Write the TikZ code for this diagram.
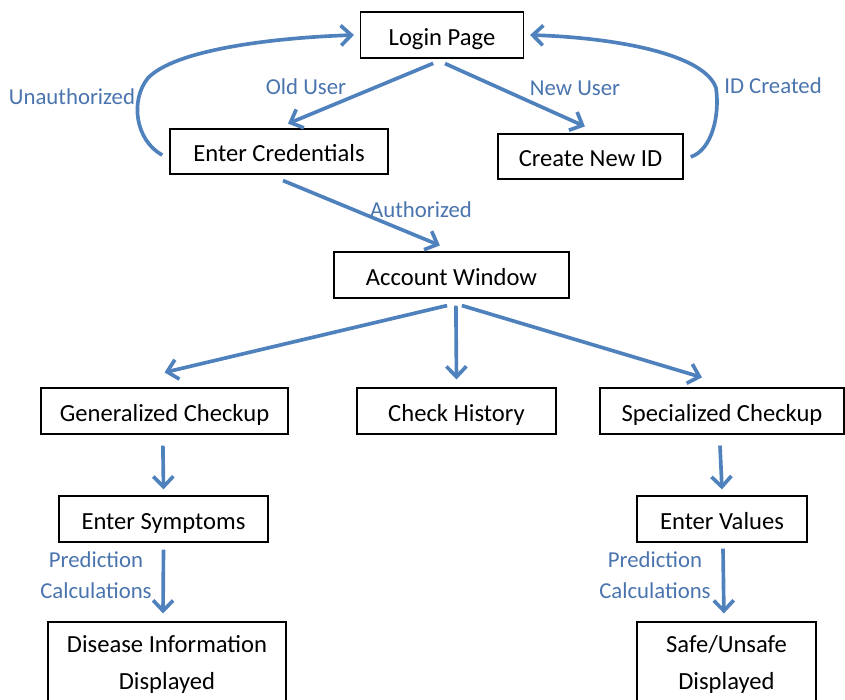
\documentclass[tikz,border=0pt]{standalone}
\usepackage{fontspec}
\setmainfont{Carlito}
\usetikzlibrary{arrows.meta, positioning}

\definecolor{flowblue}{HTML}{4F81BD}
\definecolor{labelblue}{HTML}{4A74AE}

\tikzset{
    box/.style={
        draw=black,
        line width=0.8pt,
        minimum height=1.15cm,
        inner sep=2pt,
        text height=14.5pt,
        text depth=0pt,
        font=\fontsize{17.5}{21}\selectfont
    },
    tallbox/.style={
        box,
        minimum height=2.1cm,
        align=center,
        text height=, text depth=,
        font=\fontsize{17.5}{26.3}\selectfont
    },
    flow/.style={
        line width=2.6pt,
        flowblue,
        -{Straight Barb[length=2.6mm, width=5mm, line width=2.6pt]}
    },
    lbl/.style={
        text=labelblue,
        inner sep=1pt,
        font=\fontsize{16.2}{22}\selectfont
    }
}

\begin{document}
\begin{tikzpicture}
        \useasboundingbox (0, 0) rectangle (21.125, 17.5);

        % login and account creation
        \node[box, minimum width=4.075cm] (login) at (11.05, 16.625) {Login Page};
        \node[box, minimum width=5.45cm, minimum height=1.125cm] (cred) at (6.975, 13.7125) {Enter Credentials};
        \node[box, minimum width=4.625cm, minimum height=1.125cm] (newid) at (14.7625, 13.5875) {Create New ID};
        \node[box, minimum width=5.875cm] (account) at (11.2875, 10.625) {Account Window};

        % checkup options
        \node[box, minimum width=6.175cm] (general) at (4.1125, 7.225) {Generalized Checkup};
        \node[box, minimum width=4.975cm] (history) at (11.4125, 7.225) {Check History};
        \node[box, minimum width=6.1cm] (special) at (18.05, 7.225) {Specialized Checkup};

        \node[box, minimum width=5.225cm] (symptoms) at (4.0875, 4.525) {Enter Symptoms};
        \node[box, minimum width=4.25cm] (values) at (18.05, 4.525) {Enter Values};

        \node[tallbox, minimum width=5.95cm] (disease) at (4.175, 0.9) {Disease Information\\Displayed};
        \node[tallbox, minimum width=4.475cm] (safe) at (18.1625, 0.9) {Safe/Unsafe\\Displayed};

        % connectors
        \draw[flow] ([xshift=-0.22cm, yshift=-0.12cm]login.south) -- ([xshift=0.225cm, yshift=0.12cm]cred.north);
        \draw[flow] ([xshift=0.075cm, yshift=-0.125cm]login.south) -- ([xshift=-0.14cm, yshift=0.175cm]newid.north);
        \draw[flow] ([xshift=-0.18cm, yshift=-0.09cm]cred.west)
            .. controls (3.375, 14.0) and (3.25, 15.0) .. (3.7, 15.55)
            .. controls (4.375, 16.25) and (6.75, 16.55) .. ([xshift=-0.15cm]login.west);
        \draw[flow] ([xshift=0.18cm, yshift=-0.01cm]newid.east)
            .. controls (17.8, 13.75) and (18.0, 14.625) .. (17.9, 15.3)
            .. controls (17.625, 16.125) and (15.5, 16.55) .. ([xshift=0.15cm]login.east);
        \draw[flow] ([xshift=0.1cm, yshift=-0.15cm]cred.south) -- ([xshift=-0.29cm, yshift=0.15cm]account.north);

        \draw[flow] ([xshift=-0.11cm, yshift=-0.175cm]account.south) -- ([yshift=0.375cm]general.north);
        \draw[flow] ([xshift=0.11cm, yshift=-0.175cm]account.south) -- ([yshift=0.2cm]history.north);
        \draw[flow] ([xshift=0.26cm, yshift=-0.175cm]account.south) -- ([xshift=-0.5cm, yshift=0.25cm]special.north);

        \draw[flow] ([xshift=-0.04cm, yshift=-0.275cm]general.south) -- ([yshift=0.15cm]symptoms.north);
        \draw[flow] ([yshift=-0.175cm]symptoms.south) -- ([xshift=-0.1cm, yshift=0.2cm]disease.north);
        \draw[flow] ([xshift=-0.05cm, yshift=-0.275cm]special.south) -- ([yshift=0.15cm]values.north);
        \draw[flow] ([xshift=0.025cm, yshift=-0.15cm]values.south) -- ([xshift=-0.065cm, yshift=0.2cm]safe.north);

        % labels
        \node[lbl] (olduser) at (7.65, 15.325) {Old User};
        \node[lbl] (newuser) at (14.375, 15.3) {New User};
        \node[lbl] (unauth) at (1.8, 15.075) {Unauthorized};
        \node[lbl] (created) at (19.325, 15.35) {ID Created};
        \node[lbl] (auth) at (10.525, 12.25) {Authorized};
        \node[lbl, align=center] (predleft) at (2.4, 3.125) {Prediction\\Calculations};
        \node[lbl, align=center] (predright) at (16.375, 3.125) {Prediction\\Calculations};
    \end{tikzpicture}
\end{document}
